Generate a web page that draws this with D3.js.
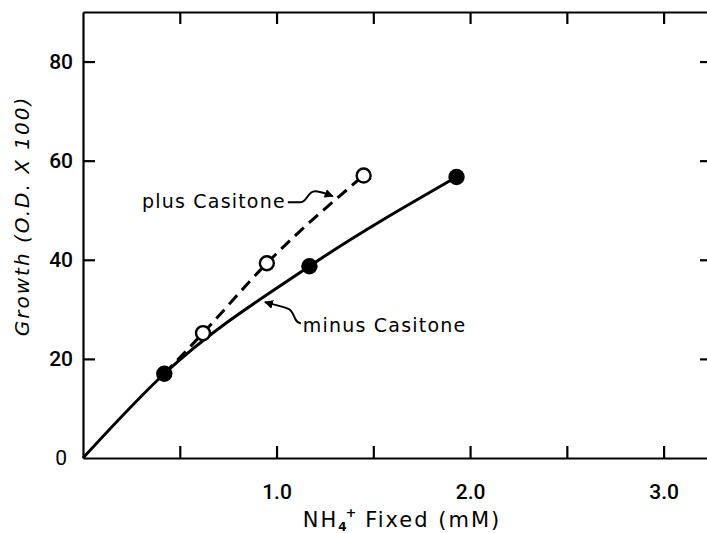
<!DOCTYPE html>
<html>
<head>
<meta charset="utf-8">
<script src="https://cdn.jsdelivr.net/npm/d3@7"></script>
<style>
  html, body { margin: 0; padding: 0; background: #fff; }
  svg { display: block; }
</style>
</head>
<body>
<svg id="chart" width="707" height="533"></svg>
<script>
// ---- data ----
const xTickValues = [0.5, 1.0, 1.5, 2.0, 2.5, 3.0];
const xTickLabels = [1.0, 2.0, 3.0];
const yTickValues = [0, 20, 40, 60, 80];

// minus Casitone (filled circles, solid curve from origin)
const minusX = [0.42, 1.17, 1.93];
const minusY = [17.0, 38.7, 56.7];
// plus Casitone (open circles, dashed line starting at first filled point)
const plusX = [0.62, 0.95, 1.45];
const plusY = [25.2, 39.3, 57.0];

const curveOrigin = [0, 0];

// ---- layout ----
const svg = d3.select("#chart");
const x = d3.scaleLinear().domain([0, 3.25]).range([83, 712]);
const y = d3.scaleLinear().domain([0, 90]).range([458, 12]);

const axisW = 2.2;
const tickFont = "Roboto, 'DejaVu Sans', sans-serif";

function styleAxis(g) {
  g.select(".domain").attr("stroke", "#000").attr("stroke-width", axisW);
  g.selectAll(".tick line").attr("stroke", "#000").attr("stroke-width", axisW);
  g.selectAll(".tick text").attr("fill", "#000").attr("font-family", tickFont)
    .attr("font-size", 21).attr("font-weight", 500);
}

// bottom axis
svg.append("g").attr("transform", `translate(0,${y(0)})`)
  .call(d3.axisBottom(x).tickValues(xTickValues).tickSizeInner(-12).tickSizeOuter(0)
    .tickPadding(26)
    .tickFormat(d => xTickLabels.some(v => Math.abs(v - d) < 1e-9) ? d.toFixed(1) : ""))
  .call(styleAxis);

// top axis
svg.append("g").attr("transform", `translate(0,${y(90)})`)
  .call(d3.axisTop(x).tickValues(xTickValues).tickSizeInner(-12).tickSizeOuter(0).tickFormat(""))
  .call(styleAxis);

// left axis
const gl = svg.append("g").attr("transform", `translate(${x(0)},0)`)
  .call(d3.axisLeft(y).tickValues(yTickValues).tickSizeInner(-12).tickSizeOuter(0).tickPadding(10)
    .tickFormat(d3.format("d")))
  .call(styleAxis);
gl.selectAll(".tick").filter(d => d === 0).select("text").attr("dx", -6).attr("font-weight", 400);
gl.selectAll(".tick").filter(d => d === 0).select("line").remove();

// right axis
svg.append("g").attr("transform", `translate(${x(3.25)},0)`)
  .call(d3.axisRight(y).tickValues(yTickValues.filter(d => d > 0)).tickSizeInner(-12).tickSizeOuter(0).tickFormat(""))
  .call(styleAxis);

// ---- curves ----
const minusPts = [curveOrigin].concat(minusX.map((d, i) => [d, minusY[i]]));
const plusPts = [[minusX[0], minusY[0]]].concat(plusX.map((d, i) => [d, plusY[i]]));

const line = d3.line().x(d => x(d[0])).y(d => y(d[1])).curve(d3.curveMonotoneX);

svg.append("path").datum(minusPts).attr("d", line)
  .attr("fill", "none").attr("stroke", "#000").attr("stroke-width", 3);

svg.append("path").datum(plusPts).attr("d", line)
  .attr("fill", "none").attr("stroke", "#000").attr("stroke-width", 3)
  .attr("stroke-dasharray", "12,7");

// markers
svg.selectAll("circle.plus").data(plusX).enter().append("circle")
  .attr("class", "plus")
  .attr("cx", d => x(d)).attr("cy", (d, i) => y(plusY[i])).attr("r", 7)
  .attr("fill", "#fff").attr("stroke", "#000").attr("stroke-width", 2.4);

svg.selectAll("circle.minus").data(minusX).enter().append("circle")
  .attr("class", "minus")
  .attr("cx", d => x(d)).attr("cy", (d, i) => y(minusY[i])).attr("r", 8.2)
  .attr("fill", "#000");

// ---- annotations ----
svg.append("defs").append("marker")
  .attr("id", "arrow").attr("viewBox", "0 0 10 10").attr("refX", 9).attr("refY", 5)
  .attr("markerWidth", 9).attr("markerHeight", 9).attr("orient", "auto")
  .attr("markerUnits", "userSpaceOnUse")
  .append("path").attr("d", "M0,0 L10,5 L0,10 z").attr("fill", "#000");

const labelFont = "'DejaVu Sans', sans-serif";

// plus Casitone label
const plusLabelEnd = [1.048, 50.4];
svg.append("text").attr("x", x(plusLabelEnd[0])).attr("y", y(plusLabelEnd[1]))
  .attr("text-anchor", "end").attr("font-family", labelFont).attr("font-size", 19)
  .attr("letter-spacing", 1.2).text("plus Casitone");
{
  const x0 = x(plusLabelEnd[0]) + 2, y0 = y(plusLabelEnd[1]) - 6;
  svg.append("path")
    .attr("d", `M${x0},${y0} L${x0 + 13},${y0} C${x0 + 19},${y0} ${x0 + 20},${y0 - 11} ${x0 + 27},${y0 - 11} C${x0 + 33},${y0 - 11} ${x0 + 37},${y0 - 9} ${x0 + 45},${y0 - 6}`)
    .attr("fill", "none").attr("stroke", "#000").attr("stroke-width", 2)
    .attr("marker-end", "url(#arrow)");
}

// minus Casitone label
const minusLabelStart = [1.136, 25.4];
svg.append("text").attr("x", x(minusLabelStart[0])).attr("y", y(minusLabelStart[1]))
  .attr("text-anchor", "start").attr("font-family", labelFont).attr("font-size", 19)
  .attr("letter-spacing", 1.2).text("minus Casitone");
{
  const x0 = x(minusLabelStart[0]) - 2, y0 = y(minusLabelStart[1]) - 9;
  svg.append("path")
    .attr("d", `M${x0},${y0} C${x0 - 7},${y0} ${x0 - 6},${y0 - 11} ${x0 - 12},${y0 - 14} C${x0 - 18},${y0 - 17} ${x0 - 26},${y0 - 18} ${x0 - 36},${y0 - 21}`)
    .attr("fill", "none").attr("stroke", "#000").attr("stroke-width", 2)
    .attr("marker-end", "url(#arrow)");
}

// ---- axis titles ----
const xt = svg.append("text").attr("x", 402).attr("y", 527)
  .attr("text-anchor", "middle").attr("font-family", labelFont).attr("font-size", 21)
  .attr("letter-spacing", 2);
xt.append("tspan").text("NH");
xt.append("tspan").attr("font-size", 12).attr("font-weight", "bold").attr("letter-spacing", 0)
  .attr("dy", 4).text("4");
xt.append("tspan").attr("font-size", 13).attr("font-weight", "bold").attr("letter-spacing", 0)
  .attr("dy", -14).attr("dx", -1).text("+");
xt.append("tspan").attr("dy", 10).text(" Fixed (mM)");

svg.append("text")
  .attr("transform", "translate(29,216) rotate(-90)")
  .attr("text-anchor", "middle").attr("font-family", labelFont).attr("font-size", 20)
  .attr("font-style", "italic").attr("letter-spacing", 2)
  .text("Growth (O.D. X 100)");
</script>
</body>
</html>
